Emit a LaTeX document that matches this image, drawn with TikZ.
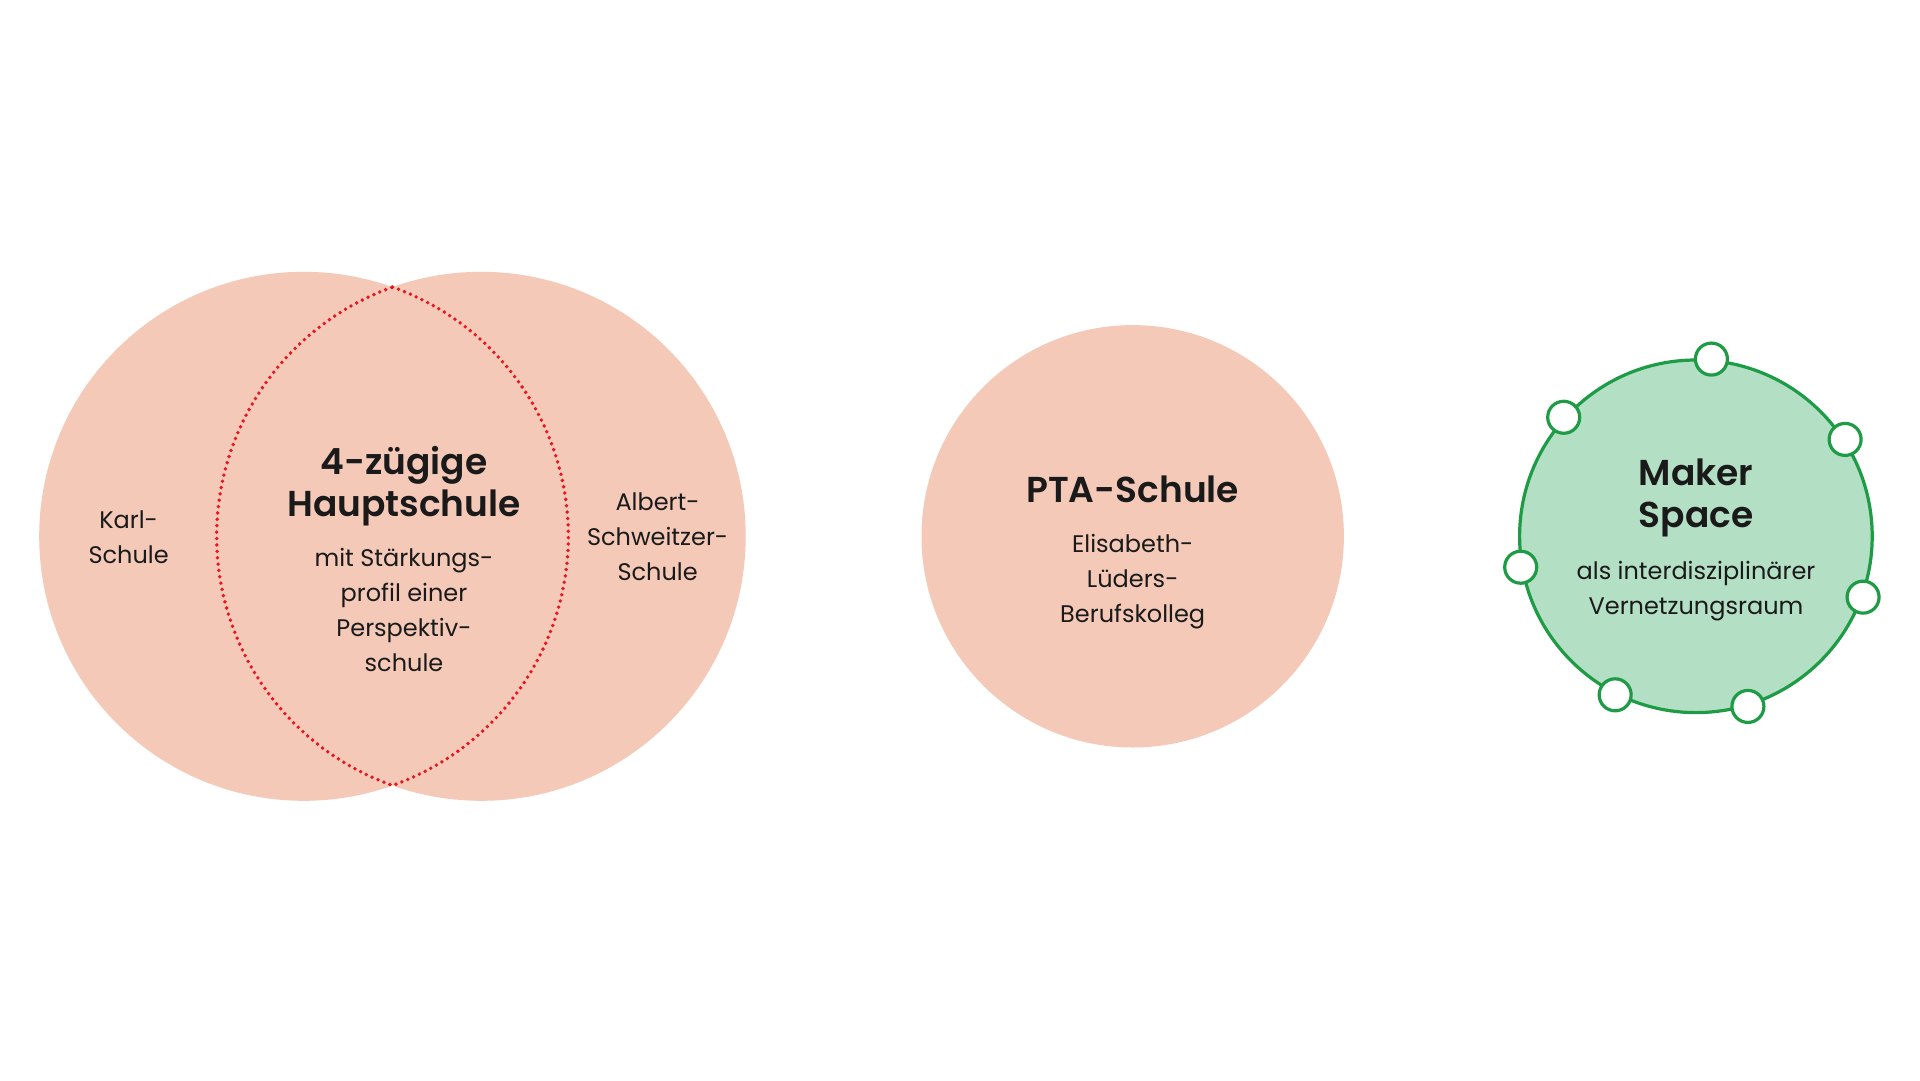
\documentclass[tikz,border=0pt]{standalone}
\usepackage{fontspec}
\setmainfont{Poppins}[BoldFont={Poppins SemiBold}]
\definecolor{peach}{HTML}{F4C9B8}
\definecolor{mint}{HTML}{B3DFC4}
\definecolor{leaf}{HTML}{1E9B45}
\definecolor{dotred}{HTML}{E8141F}
\definecolor{ink}{HTML}{1A1A1A}
\begin{document}
\begin{tikzpicture}[x=1pt,y=-1pt,
  disc/.style={circle,inner sep=0pt,outer sep=0pt,draw=none,fill=peach},
  title/.style={align=center,text=ink,font=\fontsize{36}{41.6}\selectfont\bfseries,inner sep=0pt},
  body/.style={align=center,text=ink,font=\fontsize{24}{35}\selectfont,inner sep=0pt},
  port/.style={circle,inner sep=0pt,minimum size=32pt,fill=white,draw=leaf,line width=3.2pt},
  lens/.style={draw=dotred,line width=3.8pt,dash pattern=on 0pt off 6.4pt,line cap=round}]
\useasboundingbox (0,0) rectangle (1920,1080);
\fill[white] (0,0) rectangle (1920,1080);
% Venn discs
\node[disc,minimum size=529pt] (karl) at (303.7,536.3) {};
\node[disc,minimum size=529pt] (albert) at (481.2,536.3) {};
% lens outline
\coordinate (ltop) at (392.5,287.1);
\draw[lens] (ltop) arc[start angle=-70.4,end angle=70.4,radius=264.5]
  arc[start angle=109.6,end angle=250.4,radius=264.5];
% PTA disc
\node[disc,minimum size=422.4pt] (pta) at (1132.7,536.3) {};
% Maker space
\node[circle,inner sep=0pt,minimum size=352.6pt,fill=mint,draw=leaf,line width=3.2pt] (mk) at (1695.9,536.3) {};
\foreach \a [count=\i] in {85.2,138.1,33,190.8,-20.1,243.4,287}
  \node[port] (p\i) at (mk.\a) {};
% texts
\node[title] (hstitle) at (404,486) {4-zügige\\Hauptschule};
\node[body] (hsbody) at (404,609.8) {mit Stärkungs-\\profil einer\\Perspektiv-\\schule};
\node[body] (karltxt) at (128.6,537.5) {Karl-\\Schule};
\node[body] (alberttxt) at (657.6,536.8) {Albert-\\Schweitzer-\\Schule};
\node[title] (ptatitle) at (1132.7,489) {PTA-Schule};
\node[body] (ptabody) at (1132.7,581.7) {Elisabeth-\\Lüders-\\Berufskolleg};
\node[title] (mktitle) at (1696,498) {Maker\\Space};
\node[body] (mkbody) at (1696,591.5) {als interdisziplinärer\\Vernetzungsraum};
\end{tikzpicture}
\end{document}
